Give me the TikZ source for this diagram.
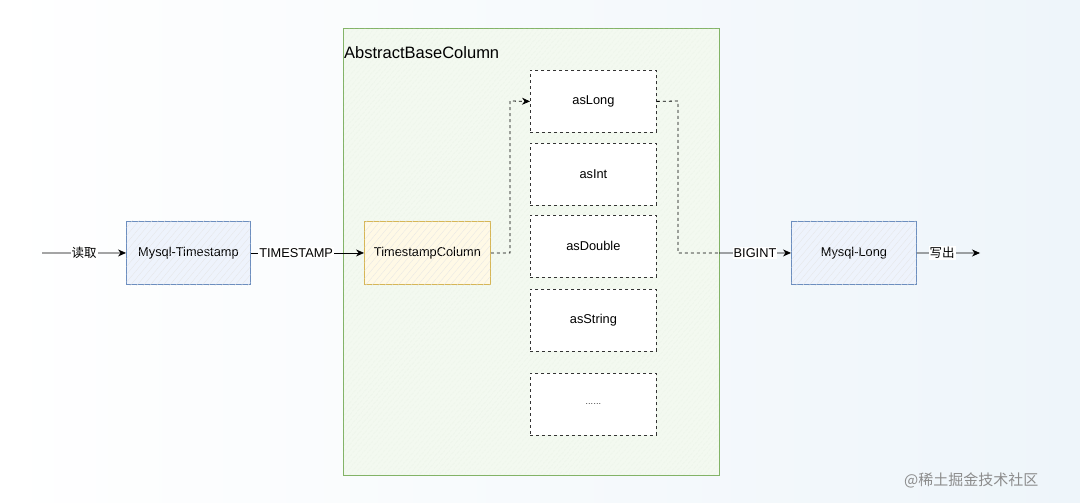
\documentclass[tikz,border=0pt]{standalone}
\usepackage{fontspec}
\setmainfont{Liberation Sans}
\newfontfamily\cjk{Noto Sans CJK SC}
\usetikzlibrary{arrows.meta,patterns.meta}
\definecolor{grnfill}{HTML}{F3F9F0}
\definecolor{grnline}{HTML}{82B366}
\definecolor{bluefill}{HTML}{EEF3FC}
\definecolor{blueline}{HTML}{6C8EBF}
\definecolor{yelfill}{HTML}{FFF9E6}
\definecolor{yelline}{HTML}{D6B656}
\definecolor{bgblue}{HTML}{EEF5FA}
\tikzset{
  x=1pt, y=-1pt,
  lbl/.style={font=\fontsize{12.8}{15}\selectfont, text=black},
  solidbox/.style={draw=#1, line width=0.9pt, minimum width=124pt, minimum height=63pt, inner sep=0pt, anchor=north west, lbl},
  dbox/.style={draw=black!80, dashed, dash pattern=on 3pt off 3pt, line width=0.8pt, fill=white, minimum width=126pt, minimum height=62pt, inner sep=0pt, anchor=north west, lbl},
  conn/.style={draw=black, line width=0.8pt, -{Stealth[length=8pt,width=7pt]}},
  dconn/.style={draw=black, line width=0.8pt, dash pattern=on 3pt off 3pt},
  elbl/.style={fill=white, inner sep=1pt, lbl},
}
\begin{document}
\begin{tikzpicture}
\useasboundingbox (0,0) rectangle (1080,503);
\shade[left color=white, right color=bgblue] (0,0) rectangle (1080,503);
% container
\node[draw=grnline, line width=1pt, fill=grnfill, minimum width=376pt, minimum height=447pt, inner sep=0pt, anchor=north west] (abc) at (343,28) {};
\fill[pattern={Lines[angle=50,distance=4pt,line width=0.35pt]}, pattern color=grnline!30] (343.5,28.5) rectangle (718.5,474.5);
\node[anchor=west, font=\fontsize{16.5}{19}\selectfont, inner sep=0pt] (title) at (344,53) {AbstractBaseColumn};
% dashed methods
\node[dbox] (along) at (530,70) {asLong};
\node[dbox] (aint) at (530,143) {asInt};
\node[dbox] (adbl) at (530,215) {asDouble};
\node[dbox] (astr) at (530,289) {asString};
\node[dbox] (amore) at (530,373) {\fontsize{8}{10}\selectfont ……};
% solid boxes
\node[solidbox=blueline, fill=bluefill] (mts) at (126,221) {Mysql-Timestamp};
\node[solidbox=yelline, fill=yelfill, minimum width=126pt] (tsc) at (364,221) {TimestampColumn};
\node[solidbox=blueline, fill=bluefill, minimum width=125pt] (ml) at (791,221) {Mysql-Long};
\foreach \n in {mts,tsc,ml}{
  \fill[pattern={Lines[angle=50,distance=5pt,line width=0.3pt]}, pattern color=black!10] ([shift={(0.5,-0.5)}]\n.north west) rectangle ([shift={(-0.5,0.5)}]\n.south east);
}
% coordinates
\coordinate (inS) at (42,253);
\coordinate (outE) at (980,253);
\coordinate (b1) at (510,253);
\coordinate (b2) at (510,101);
\coordinate (c1) at (678,101);
\coordinate (c2) at (678,253);
\coordinate (cEdge) at (719,253);
% connectors
\draw[conn] (inS) -- node[elbl, font=\cjk\fontsize{12.5}{14}\selectfont] {读取} (mts.west);
\draw[conn] (mts.east) -- node[elbl, pos=0.4] {TIMESTAMP} (tsc.west);
\draw[dconn, -{Stealth[length=8pt,width=7pt]}] (tsc.east) -- (b1) -- (b2) -- (along.west);
\draw[dconn] (along.east) -- (c1) -- (c2) -- (cEdge);
\draw[conn] (cEdge) -- node[elbl, pos=0.5] {BIGINT} (ml.west);
\draw[conn] (ml.east) -- node[elbl, font=\cjk\fontsize{12.5}{14}\selectfont, pos=0.4] {写出} (outE);
% watermark
\node[anchor=west, text=black!45, font=\cjk\fontsize{15}{17}\selectfont, inner sep=0pt] (wm) at (904,480) {@稀土掘金技术社区};
\end{tikzpicture}
\end{document}
